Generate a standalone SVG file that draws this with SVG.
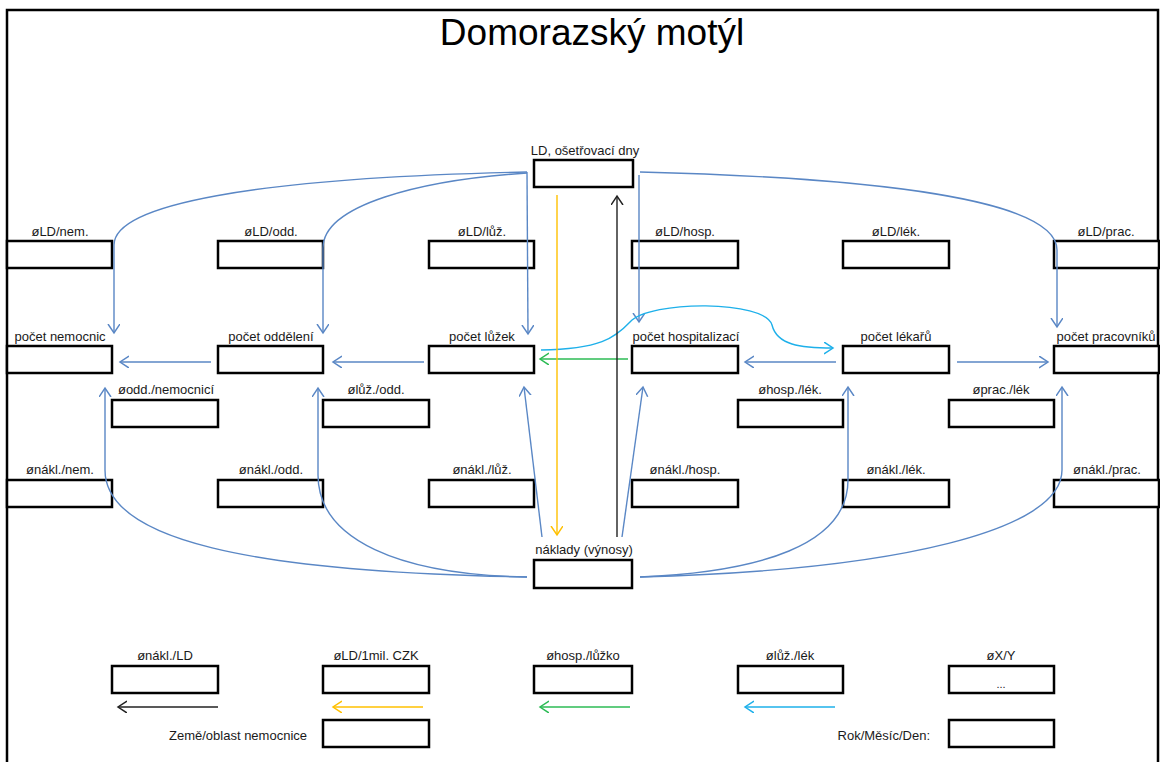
<svg xmlns="http://www.w3.org/2000/svg" width="1160" height="762" viewBox="0 0 1160 762">
<style>
.bx{fill:#fff;stroke:#000;stroke-width:2.5}
.t{font-family:"Liberation Sans",Arial,sans-serif;font-size:13px;fill:#1a1a1a;text-anchor:middle}
.ttl{font-family:"Liberation Sans",Arial,sans-serif;font-size:37px;fill:#000;text-anchor:middle}
.b{fill:none;stroke:#5A87C5;stroke-width:1.4}
.y{fill:none;stroke:#FFC000;stroke-width:1.4}
.k{fill:none;stroke:#222;stroke-width:1.4}
.g{fill:none;stroke:#2DBB55;stroke-width:1.4}
.c{fill:none;stroke:#1EB0EA;stroke-width:1.4}
</style>
<defs>
<marker id="ab" markerUnits="userSpaceOnUse" markerWidth="12" markerHeight="14" refX="9" refY="6" orient="auto"><path d="M0,0 L9,6 L0,12" fill="none" stroke="#5A87C5" stroke-width="1.5"/></marker>
<marker id="ay" markerUnits="userSpaceOnUse" markerWidth="12" markerHeight="14" refX="9" refY="6" orient="auto"><path d="M0,0 L9,6 L0,12" fill="none" stroke="#FFC000" stroke-width="1.5"/></marker>
<marker id="ak" markerUnits="userSpaceOnUse" markerWidth="12" markerHeight="14" refX="9" refY="6" orient="auto"><path d="M0,0 L9,6 L0,12" fill="none" stroke="#222" stroke-width="1.5"/></marker>
<marker id="ag" markerUnits="userSpaceOnUse" markerWidth="12" markerHeight="14" refX="9" refY="6" orient="auto"><path d="M0,0 L9,6 L0,12" fill="none" stroke="#2DBB55" stroke-width="1.5"/></marker>
<marker id="ac" markerUnits="userSpaceOnUse" markerWidth="12" markerHeight="14" refX="9" refY="6" orient="auto"><path d="M0,0 L9,6 L0,12" fill="none" stroke="#1EB0EA" stroke-width="1.5"/></marker>
</defs>
<rect width="1160" height="762" fill="#fff"/>
<path d="M7,762 L7,10 L1158,10 L1158,762" fill="none" stroke="#000" stroke-width="2.5"/>
<text class="ttl" x="592" y="45">Domorazský motýl</text>

<g id="n-ld"><rect class="bx" x="534" y="160" width="99" height="27"/><text class="t" x="585" y="155">LD, ošetřovací dny</text></g>
<g id="n-ld-nem"><rect class="bx" x="7" y="241" width="105" height="27"/><text class="t" x="60" y="236">øLD/nem.</text></g>
<g id="n-ld-odd"><rect class="bx" x="218" y="241" width="105" height="27"/><text class="t" x="271" y="236">øLD/odd.</text></g>
<g id="n-ld-luz"><rect class="bx" x="429" y="241" width="105" height="27"/><text class="t" x="482" y="236">øLD/lůž.</text></g>
<g id="n-ld-hosp"><rect class="bx" x="632" y="241" width="106" height="27"/><text class="t" x="685" y="236">øLD/hosp.</text></g>
<g id="n-ld-lek"><rect class="bx" x="843" y="241" width="106" height="27"/><text class="t" x="896" y="236">øLD/lék.</text></g>
<g id="n-ld-prac"><rect class="bx" x="1054" y="241" width="105" height="27"/><text class="t" x="1106" y="236">øLD/prac.</text></g>

<g id="n-pocet-nem"><rect class="bx" x="7" y="346" width="105" height="27"/><text class="t" x="60" y="341">počet nemocnic</text></g>
<g id="n-pocet-odd"><rect class="bx" x="218" y="346" width="105" height="27"/><text class="t" x="271" y="341">počet oddělení</text></g>
<g id="n-pocet-luz"><rect class="bx" x="429" y="346" width="105" height="27"/><text class="t" x="482" y="341">počet lůžek</text></g>
<g id="n-pocet-hosp"><rect class="bx" x="632" y="346" width="106" height="27"/><text class="t" x="686" y="341">počet hospitalizací</text></g>
<g id="n-pocet-lek"><rect class="bx" x="843" y="346" width="106" height="27"/><text class="t" x="896" y="341">počet lékařů</text></g>
<g id="n-pocet-prac"><rect class="bx" x="1054" y="346" width="105" height="27"/><text class="t" x="1106" y="341">počet pracovníků</text></g>

<g id="n-odd-nem"><rect class="bx" x="112" y="400" width="106" height="27"/><text class="t" x="166" y="394">øodd./nemocnicí</text></g>
<g id="n-luz-odd"><rect class="bx" x="323" y="400" width="106" height="27"/><text class="t" x="376" y="394">ølůž./odd.</text></g>
<g id="n-hosp-lek"><rect class="bx" x="738" y="400" width="105" height="27"/><text class="t" x="790" y="394">øhosp./lék.</text></g>
<g id="n-prac-lek"><rect class="bx" x="949" y="400" width="105" height="27"/><text class="t" x="1001" y="394">øprac./lék</text></g>

<g id="n-nakl-nem"><rect class="bx" x="7" y="480" width="105" height="27"/><text class="t" x="60" y="474">ønákl./nem.</text></g>
<g id="n-nakl-odd"><rect class="bx" x="218" y="480" width="105" height="27"/><text class="t" x="271" y="474">ønákl./odd.</text></g>
<g id="n-nakl-luz"><rect class="bx" x="429" y="480" width="105" height="27"/><text class="t" x="482" y="474">ønákl./lůž.</text></g>
<g id="n-nakl-hosp"><rect class="bx" x="632" y="480" width="106" height="27"/><text class="t" x="685" y="474">ønákl./hosp.</text></g>
<g id="n-nakl-lek"><rect class="bx" x="843" y="480" width="106" height="27"/><text class="t" x="896" y="474">ønákl./lék.</text></g>
<g id="n-nakl-prac"><rect class="bx" x="1054" y="480" width="105" height="27"/><text class="t" x="1107" y="474">ønákl./prac.</text></g>

<g id="n-naklady"><rect class="bx" x="534" y="560" width="98" height="28"/><text class="t" x="584" y="554">náklady (výnosy)</text></g>

<g id="l-nakl-ld"><rect class="bx" x="112" y="666" width="106" height="27"/><text class="t" x="165" y="660">ønákl./LD</text></g>
<g id="l-ld-mil"><rect class="bx" x="323" y="666" width="106" height="27"/><text class="t" x="376" y="660">øLD/1mil. CZK</text></g>
<g id="l-hosp-luz"><rect class="bx" x="534" y="666" width="98" height="27"/><text class="t" x="583" y="660">øhosp./lůžko</text></g>
<g id="l-luz-lek"><rect class="bx" x="738" y="666" width="105" height="27"/><text class="t" x="790" y="660">ølůž./lék</text></g>
<g id="l-xy"><rect class="bx" x="949" y="666" width="105" height="27"/><text class="t" x="1001" y="660">øX/Y</text><text class="t" x="1001" y="688" style="font-size:11px">...</text></g>
<g id="l-zeme"><rect class="bx" x="323" y="720" width="106" height="27"/><text class="t" x="307" y="740" style="text-anchor:end">Země/oblast nemocnice</text></g>
<g id="l-rok"><rect class="bx" x="949" y="720" width="105" height="27"/><text class="t" x="930" y="740" style="text-anchor:end">Rok/Měsíc/Den:</text></g>

<g id="connectors">
<path class="b" d="M527,172 C250,178 114,205 114,245 L114,333" marker-end="url(#ab)"/>
<path class="b" d="M527,173 C420,180 323,205 323,248 L323,333" marker-end="url(#ab)"/>
<path class="b" d="M527,172 L528,334" marker-end="url(#ab)"/>
<path class="b" d="M639,175 L639,322" marker-end="url(#ab)"/>
<path class="b" d="M640,172 C880,178 1057,200 1057,250 L1057,327" marker-end="url(#ab)"/>
<path class="b" d="M211,362 L120,362" marker-end="url(#ab)"/>
<path class="b" d="M424,362 L333,362" marker-end="url(#ab)"/>
<path class="b" d="M836,362 L745,362" marker-end="url(#ab)"/>
<path class="b" d="M957,362 L1048,362" marker-end="url(#ab)"/>
<path class="g" d="M628,359 L540,359" marker-end="url(#ag)"/>
<path class="c" d="M541,350 C600,349 615,338 630,322 C650,300 765,300 772,325 C777,345 800,348 833,348" marker-end="url(#ac)"/>
<path class="b" d="M527,577 C250,572 105,540 105,470 L105,388" marker-end="url(#ab)"/>
<path class="b" d="M527,577 C400,575 318,540 318,475 L318,388" marker-end="url(#ab)"/>
<path class="b" d="M542,537 L524,387" marker-end="url(#ab)"/>
<path class="b" d="M622,537 L643,387" marker-end="url(#ab)"/>
<path class="b" d="M640,577 C760,572 848,545 848,480 L848,387" marker-end="url(#ab)"/>
<path class="b" d="M640,577 C900,570 1062,530 1062,470 L1062,387" marker-end="url(#ab)"/>
<path class="y" d="M557,195 L557,535" marker-end="url(#ay)"/>
<path class="k" d="M617,537 L617,196" marker-end="url(#ak)"/>
<path class="k" d="M218,707 L118,707" marker-end="url(#ak)"/>
<path class="y" d="M423,707 L333,707" marker-end="url(#ay)"/>
<path class="g" d="M630,707 L540,707" marker-end="url(#ag)"/>
<path class="c" d="M835,707 L745,707" marker-end="url(#ac)"/>
</g>
</svg>
